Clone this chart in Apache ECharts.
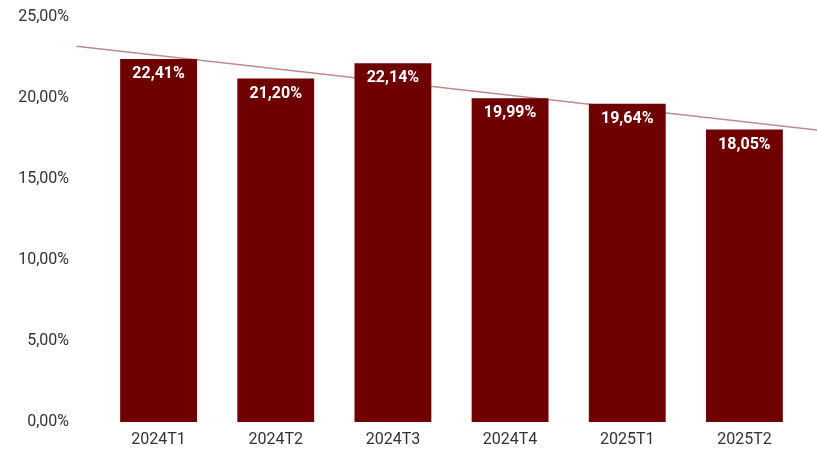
<!DOCTYPE html>
<html><head><meta charset="utf-8">
<script src="https://cdn.jsdelivr.net/npm/echarts@6/dist/echarts.min.js"></script>
<style>html,body{margin:0;padding:0;background:#fff}#c{width:817px;height:450px}</style>
</head><body><div id="c"></div>
<script>
const categories = ['2024T1','2024T2','2024T3','2024T4','2025T1','2025T2'];
const values = [22.41, 21.20, 22.14, 19.99, 19.64, 18.05];
const yTicks = [0, 5, 10, 15, 20, 25];

function fmt(v){ return v.toFixed(2).replace('.', ',') + '%'; }

// linear trendline (least squares) from the data
const n = values.length;
const mx = (n - 1) / 2;
const my = values.reduce((a,b)=>a+b,0) / n;
let sxy = 0, sxx = 0;
values.forEach((v,i)=>{ sxy += (i-mx)*(v-my); sxx += (i-mx)*(i-mx); });
const slope = sxy / sxx;
const trendAt = x => my + slope * (x - mx);

const W = 817, GL = 100, GR = 14, GT = 17, GB = 28;
const unit = (W - GL - GR) / n;           // px per category
const fullMin = -0.5 - GL / unit;         // value at x=0
const fullMax = (n - 0.5) + GR / unit;    // value at x=W
const tStart = -0.7, tEnd = fullMax;

const chart = echarts.init(document.getElementById('c'));
chart.setOption({
  animation: false,
  textStyle: { fontFamily: 'Roboto' },
  grid: [
    { left: GL, right: GR, top: GT, bottom: GB, containLabel: false },
    { left: 0, right: 0, top: GT, bottom: GB, containLabel: false }
  ],
  xAxis: [{
    type: 'category', data: categories, gridIndex: 0,
    axisLine: { show: false }, axisTick: { show: false },
    axisLabel: { color: '#333', fontSize: 16, margin: 10 }
  },{
    type: 'value', gridIndex: 1, min: fullMin, max: fullMax, show: false
  }],
  yAxis: [{
    type: 'value', gridIndex: 0, min: yTicks[0], max: yTicks[yTicks.length-1], interval: 5,
    splitLine: { show: false }, axisLine: { show: false }, axisTick: { show: false },
    axisLabel: { color: '#333', fontSize: 16, margin: 31, formatter: v => fmt(v) }
  },{
    type: 'value', gridIndex: 1, min: yTicks[0], max: yTicks[yTicks.length-1], show: false
  }],
  series: [{
    type: 'line', xAxisIndex: 1, yAxisIndex: 1, clip: false, symbol: 'none', z: 1,
    data: [[tStart, trendAt(tStart)], [tEnd, trendAt(tEnd)]],
    lineStyle: { color: '#bb8c8c', width: 1.5 }
  },{
    type: 'bar', data: values, barWidth: '65.6%', xAxisIndex: 0, yAxisIndex: 0, z: 3,
    itemStyle: { color: '#6e0000' },
    label: { show: true, position: 'insideTop', distance: 7, color: '#fff',
      fontWeight: 'bold', fontSize: 16, formatter: p => fmt(p.value) }
  }]
});
</script></body></html>
